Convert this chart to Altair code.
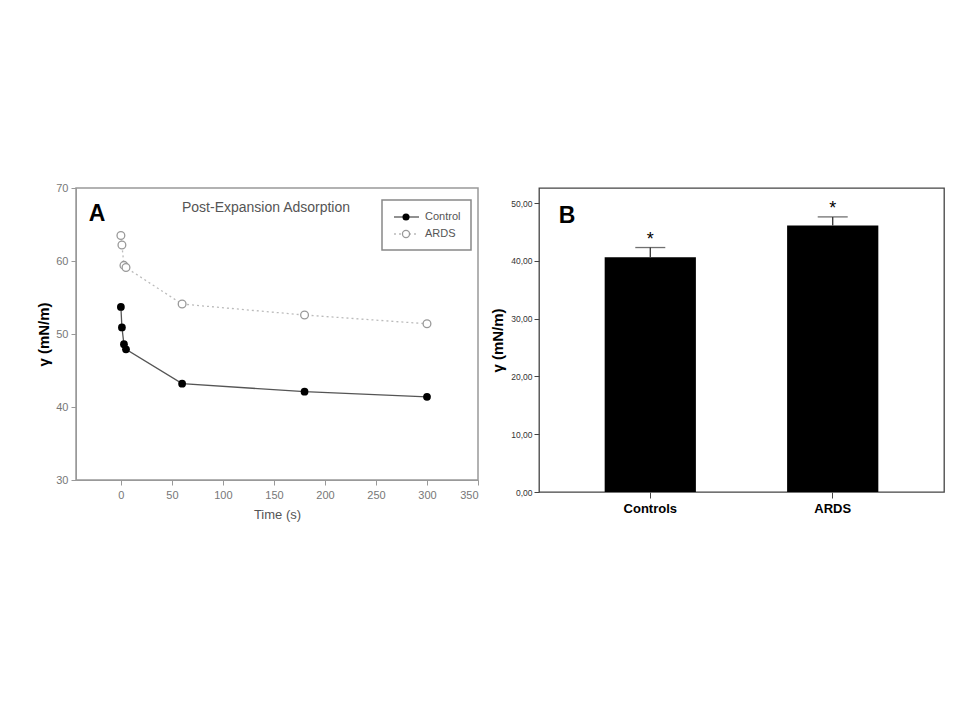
import altair as alt
import pandas as pd

# ---------------- data ----------------
time_s = [0, 1, 3, 5, 60, 180, 300]
control_gamma = [53.7, 50.9, 48.6, 47.9, 43.2, 42.1, 41.4]
ards_gamma = [63.5, 62.2, 59.4, 59.1, 54.1, 52.6, 51.4]
series_names = ["Control", "ARDS"]

x_ticks_a = [0, 50, 100, 150, 200, 250, 300, 350]
y_ticks_a = [30, 40, 50, 60, 70]

groups = ["Controls", "ARDS"]
group_mean = [40.6, 46.1]
group_err = [1.7, 1.5]
y_ticks_b = [0, 10, 20, 30, 40, 50]

FONT = "Liberation Sans"

# ---------------- panel A ----------------
df_a = pd.DataFrame({
    "time": time_s * 2,
    "gamma": control_gamma + ards_gamma,
    "series": [series_names[0]] * len(time_s) + [series_names[1]] * len(time_s),
})
ctrl = df_a[df_a.series == "Control"]
ards = df_a[df_a.series == "ARDS"]

W_A, H_A = 402, 292

xA = alt.X("time:Q", scale=alt.Scale(domain=[-44, 350], nice=False, zero=False),
           axis=alt.Axis(values=x_ticks_a, title="Time (s)", grid=False,
                         domainColor="#999", tickColor="#999", tickSize=5,
                         labelColor="#777", labelFontSize=11, labelFont=FONT,
                         labelPadding=4,
                         titleFont=FONT, titleFontSize=13, titleColor="#555",
                         titleFontWeight="normal", titlePadding=8))
yA = alt.Y("gamma:Q", scale=alt.Scale(domain=[30, 70], nice=False, zero=False),
           axis=alt.Axis(values=y_ticks_a, title="γ (mN/m)", grid=False,
                         domainColor="#999", tickColor="#999", tickSize=5,
                         labelColor="#777", labelFontSize=11, labelFont=FONT,
                         labelPadding=3,
                         titleFont=FONT, titleFontSize=15, titleColor="#000",
                         titleFontWeight="bold", titlePadding=4))

ctrl_line = alt.Chart(ctrl).mark_line(color="#555", strokeWidth=1.3).encode(x=xA, y=yA)
ards_line = alt.Chart(ards).mark_line(color="#bbb", strokeWidth=1.3, strokeDash=[2, 3]).encode(x=xA, y=yA)
ctrl_pts = alt.Chart(ctrl).mark_point(filled=True, color="#000", size=60, opacity=1).encode(x=xA, y=yA)
ards_pts = alt.Chart(ards).mark_point(filled=True, fill="#fff", stroke="#999", strokeWidth=1.3,
                                      size=60, opacity=1).encode(x=xA, y=yA)

one = pd.DataFrame({"k": [0]})
title_a = alt.Chart(one).mark_text(text="Post-Expansion Adsorption", font=FONT, fontSize=14,
                                   color="#555", baseline="middle").encode(
    x=alt.value(190), y=alt.value(20))
label_a = alt.Chart(one).mark_text(text="A", font=FONT, fontSize=23, fontWeight="bold",
                                   color="#000", baseline="middle").encode(
    x=alt.value(21), y=alt.value(26))

leg_box = alt.Chart(one).mark_rect(fill="#fff", stroke="#888", strokeWidth=1.5).encode(
    x=alt.value(306), x2=alt.value(395), y=alt.value(12), y2=alt.value(62))
leg_l1 = alt.Chart(one).mark_rule(color="#555", strokeWidth=1.3).encode(
    x=alt.value(318), x2=alt.value(343), y=alt.value(29))
leg_l2 = alt.Chart(one).mark_rule(color="#bbb", strokeWidth=1.3, strokeDash=[2, 3]).encode(
    x=alt.value(318), x2=alt.value(343), y=alt.value(46))
leg_p1 = alt.Chart(one).mark_point(filled=True, color="#000", size=50, opacity=1).encode(
    x=alt.value(330), y=alt.value(29))
leg_p2 = alt.Chart(one).mark_point(filled=True, fill="#fff", stroke="#999", strokeWidth=1.3,
                                   size=50, opacity=1).encode(x=alt.value(330), y=alt.value(46))
leg_t1 = alt.Chart(one).mark_text(text=series_names[0], font=FONT, fontSize=11, color="#555",
                                  align="left", baseline="middle").encode(
    x=alt.value(349), y=alt.value(29))
leg_t2 = alt.Chart(one).mark_text(text=series_names[1], font=FONT, fontSize=11, color="#555",
                                  align="left", baseline="middle").encode(
    x=alt.value(349), y=alt.value(46))

panel_a = alt.layer(
    ards_line, ctrl_line, ards_pts, ctrl_pts, title_a, label_a,
    leg_box, leg_l1, leg_l2, leg_p1, leg_p2, leg_t1, leg_t2
).properties(width=W_A, height=H_A, view=alt.ViewBackground(stroke="#999", strokeWidth=1.5))

# ---------------- panel B ----------------
df_b = pd.DataFrame({
    "group": groups,
    "mean": group_mean,
    "upper": [m + e for m, e in zip(group_mean, group_err)],
})
W_B, H_B = 405, 304

xB = alt.X("group:N", sort=groups,
           scale=alt.Scale(paddingInner=0.5, paddingOuter=0.36),
           axis=alt.Axis(title=None, labelAngle=0, domain=False, tickColor="#444",
                         tickSize=6, labelFont=FONT, labelFontSize=13,
                         labelFontWeight="bold", labelColor="#000", labelPadding=4))
yB = alt.Y("mean:Q", scale=alt.Scale(domain=[0, 52.6], nice=False),
           axis=alt.Axis(values=y_ticks_b, title="γ (mN/m)", grid=False, domain=False,
                         tickColor="#444", tickSize=5,
                         labelExpr="replace(format(datum.value, '.2f'), '.', ',')",
                         labelFont=FONT, labelFontSize=8.5, labelColor="#333",
                         labelPadding=2,
                         titleFont=FONT, titleFontSize=15, titleColor="#000",
                         titleFontWeight="bold", titlePadding=5))

bars = alt.Chart(df_b).mark_bar(color="#000").encode(x=xB, y=yB)
err = alt.Chart(df_b).mark_rule(color="#333", strokeWidth=1.3).encode(
    x=alt.X("group:N", sort=groups), y="mean:Q", y2="upper:Q")
caps = alt.Chart(df_b).mark_tick(color="#333", thickness=1.3, size=30).encode(
    x=alt.X("group:N", sort=groups), y="upper:Q")
stars = alt.Chart(df_b).mark_text(text="*", font=FONT, fontSize=18, color="#000",
                                  baseline="middle", dy=-8).encode(
    x=alt.X("group:N", sort=groups), y="upper:Q")
label_b = alt.Chart(one).mark_text(text="B", font=FONT, fontSize=23, fontWeight="bold",
                                   color="#000", baseline="middle").encode(
    x=alt.value(28), y=alt.value(28))

panel_b = alt.layer(bars, err, caps, stars, label_b).properties(
    width=W_B, height=H_B, view=alt.ViewBackground(stroke="#444", strokeWidth=1.3))

chart = alt.hconcat(panel_a, panel_b, spacing=10).properties(
    padding={"left": 28, "top": 173, "right": 5, "bottom": 5}
).configure(background="#fff")

chart.save("out.html", embed_options={"renderer": "svg", "actions": False})
